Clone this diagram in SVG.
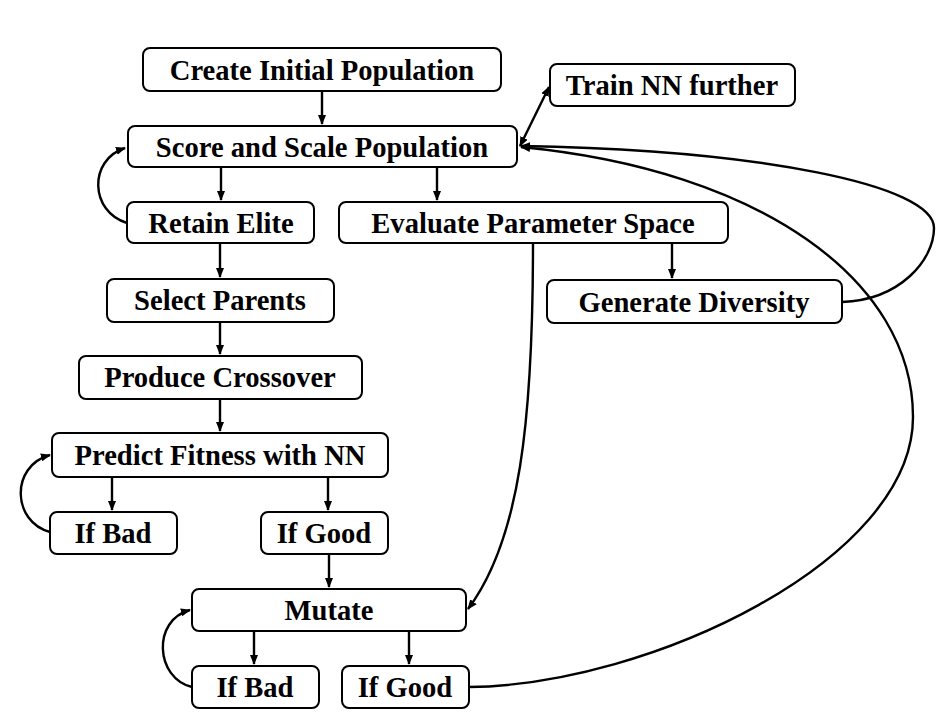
<svg xmlns="http://www.w3.org/2000/svg" width="944" height="715" viewBox="0 0 944 715">
<style>
.box{fill:#fff;stroke:#000;stroke-width:2}
.t{font-family:"Liberation Serif","Times New Roman",serif;font-weight:bold;font-size:28.6px;fill:#000;text-anchor:middle}
.c{fill:none;stroke:#000;stroke-width:2.4}
</style>
<defs>
<marker id="ah" viewBox="0 0 10 10" refX="9" refY="5" markerWidth="4.2" markerHeight="4.2" orient="auto-start-reverse" markerUnits="strokeWidth">
<path d="M0,1 L10,5 L0,9 z" fill="#000"/>
</marker>
</defs>
<rect width="944" height="715" fill="#fff"/>
<g id="connectors">
<path class="c" d="M322,91 V124" marker-end="url(#ah)"/>
<path class="c" d="M221,167 V200" marker-end="url(#ah)"/>
<path class="c" d="M437,167 V200" marker-end="url(#ah)"/>
<path class="c" d="M127,223 C90,212 88,160 125,148" marker-end="url(#ah)"/>
<path class="c" d="M220,243 V277" marker-end="url(#ah)"/>
<path class="c" d="M220,322 V354" marker-end="url(#ah)"/>
<path class="c" d="M220,399 V431" marker-end="url(#ah)"/>
<path class="c" d="M112,477 V510" marker-end="url(#ah)"/>
<path class="c" d="M328,477 V510" marker-end="url(#ah)"/>
<path class="c" d="M50,532 C12,522 10,466 50,455" marker-end="url(#ah)"/>
<path class="c" d="M329,554 V587" marker-end="url(#ah)"/>
<path class="c" d="M254,631 V664" marker-end="url(#ah)"/>
<path class="c" d="M409,631 V664" marker-end="url(#ah)"/>
<path class="c" d="M192,687 C155,678 152,620 190,610" marker-end="url(#ah)"/>
<path class="c" d="M533,243 C533,420 520,540 468,609" marker-end="url(#ah)"/>
<path class="c" d="M672,243 V278" marker-end="url(#ah)"/>
<path class="c" d="M842,302 C900,300 934,260 934,228 C934,185 760,150 521,146" marker-end="url(#ah)"/>
<path class="c" d="M469,687 C650,685 913,560 913,417 C913,280 760,170 521,147" marker-end="url(#ah)"/>
<path class="c" d="M520,146 L549,87" marker-start="url(#ah)" marker-end="url(#ah)"/>
</g>
<g id="create"><rect class="box" x="143" y="48" width="358" height="43" rx="7"/><text class="t" x="322" y="80">Create Initial Population</text></g>
<g id="train"><rect class="box" x="550" y="64" width="245" height="42" rx="7"/><text class="t" x="672" y="95">Train NN further</text></g>
<g id="score"><rect class="box" x="128" y="126" width="389" height="41" rx="7"/><text class="t" x="322" y="157">Score and Scale Population</text></g>
<g id="retain"><rect class="box" x="127" y="202" width="187" height="41" rx="7"/><text class="t" x="221" y="233">Retain Elite</text></g>
<g id="evaluate"><rect class="box" x="339" y="202" width="389" height="41" rx="7"/><text class="t" x="533" y="233">Evaluate Parameter Space</text></g>
<g id="diversity"><rect class="box" x="547" y="280" width="295" height="43" rx="7"/><text class="t" x="694" y="312">Generate Diversity</text></g>
<g id="select"><rect class="box" x="107" y="279" width="227" height="43" rx="7"/><text class="t" x="220" y="310">Select Parents</text></g>
<g id="crossover"><rect class="box" x="79" y="356" width="283" height="43" rx="7"/><text class="t" x="220" y="387">Produce Crossover</text></g>
<g id="predict"><rect class="box" x="52" y="433" width="336" height="44" rx="7"/><text class="t" x="220" y="465">Predict Fitness with NN</text></g>
<g id="bad1"><rect class="box" x="50" y="512" width="127" height="42" rx="7"/><text class="t" x="113" y="543">If Bad</text></g>
<g id="good1"><rect class="box" x="261" y="512" width="127" height="42" rx="7"/><text class="t" x="324" y="543">If Good</text></g>
<g id="mutate"><rect class="box" x="192" y="589" width="274" height="42" rx="7"/><text class="t" x="329" y="620">Mutate</text></g>
<g id="bad2"><rect class="box" x="192" y="666" width="127" height="42" rx="7"/><text class="t" x="255" y="697">If Bad</text></g>
<g id="good2"><rect class="box" x="342" y="666" width="127" height="42" rx="7"/><text class="t" x="405" y="697">If Good</text></g>
</svg>
